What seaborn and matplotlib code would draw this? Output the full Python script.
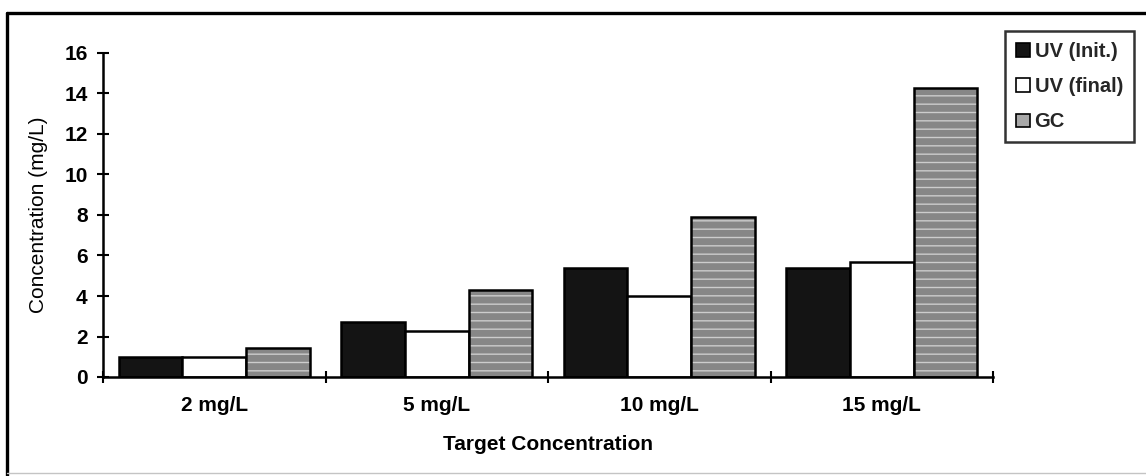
import matplotlib
matplotlib.use("Agg")
import matplotlib.pyplot as plt
from matplotlib.patches import Patch, Rectangle
from matplotlib.lines import Line2D
import numpy as np
import pandas as pd
import seaborn as sns

# Measured concentrations (mg/L) at each target level
targets = ["2 mg/L", "5 mg/L", "10 mg/L", "15 mg/L"]
uv_init = [1.0, 2.7, 5.4, 5.4]
uv_final = [1.0, 2.25, 4.0, 5.7]
gc = [1.45, 4.3, 7.9, 14.25]
methods = ["UV (Init.)", "UV (final)", "GC"]
y_ticks = [0, 2, 4, 6, 8, 10, 12, 14, 16]

df = pd.DataFrame({
    "target": targets * 3,
    "conc": uv_init + uv_final + gc,
    "method": [methods[0]] * 4 + [methods[1]] * 4 + [methods[2]] * 4,
})

sns.set_style("white")
plt.rcParams["font.family"] = ["Liberation Sans", "DejaVu Sans"]
plt.rcParams["hatch.linewidth"] = 1.0

GC_GRAY = "#878787"
STREAK = "#cdcdcd"
palette = {methods[0]: "#141414", methods[1]: "#ffffff", methods[2]: GC_GRAY}

fig = plt.figure(figsize=(11.46, 4.76), dpi=100)
ax = fig.add_axes([103 / 1146, 1 - 377 / 476, 890 / 1146, 324 / 476])

sns.barplot(data=df, x="target", y="conc", hue="method", order=targets,
            hue_order=methods, palette=palette, width=0.86, saturation=1,
            edgecolor="black", linewidth=1.8, legend=False, ax=ax)

# Grainy GC fill: pale streaks over gray, black outline redrawn on top
for bar in ax.containers[2]:
    bar.set_hatch("--")
    bar.set_edgecolor(STREAK)
    bar.set_linewidth(0)
    ax.add_patch(Rectangle(bar.get_xy(), bar.get_width(), bar.get_height(),
                           fill=False, edgecolor="black", linewidth=1.8,
                           zorder=bar.get_zorder() + 0.1))

ax.set_xlim(-0.5, 3.5)
ax.set_ylim(0, 16)
ax.set_yticks(y_ticks)
ax.set_xticks(range(len(targets)))
ax.set_xticklabels(targets)
ax.set_xticks(np.arange(-0.5, 4.0, 1.0), minor=True)

for side in ("top", "right"):
    ax.spines[side].set_visible(False)
for side in ("left", "bottom"):
    ax.spines[side].set_color("black")
    ax.spines[side].set_linewidth(1.8)

ax.tick_params(axis="y", which="major", direction="inout", length=8, width=1.5,
               color="black", pad=7, labelsize=15, left=True)
ax.tick_params(axis="x", which="major", length=0, pad=14, labelsize=15)
ax.tick_params(axis="x", which="minor", direction="inout", length=8, width=1.5,
               color="black", bottom=True)
for lab in ax.get_xticklabels() + ax.get_yticklabels():
    lab.set_fontweight("bold")
    lab.set_color("black")

ax.set_xlabel("Target Concentration", fontsize=15, fontweight="bold",
              labelpad=14, color="black")
ax.set_ylabel("Concentration (mg/L)", fontsize=15,
              family=["Liberation Sans Narrow", "Liberation Sans"],
              labelpad=12, color="black")

handles = [
    Patch(facecolor="#141414", edgecolor="black", linewidth=1.2),
    Patch(facecolor="white", edgecolor="black", linewidth=1.2),
    Patch(facecolor="#a8a8a8", edgecolor="black", linewidth=1.2),
]
leg = fig.legend(handles, methods, loc="upper right",
                 bbox_to_anchor=(1134 / 1146, 1 - 31 / 476),
                 prop={"family": "Liberation Sans", "weight": "bold", "size": 14.5},
                 frameon=True, fancybox=False, edgecolor="black",
                 handlelength=0.65, handleheight=0.65, handletextpad=0.25,
                 labelspacing=0.8, borderpad=0.55, borderaxespad=0)
leg.get_frame().set_linewidth(1.8)

# Outer frame of the chart area
fig.add_artist(Line2D([7 / 1146, 1.0], [1 - 13 / 476] * 2, color="black",
                      linewidth=2.4, transform=fig.transFigure))
fig.add_artist(Line2D([7 / 1146] * 2, [0.0, 1 - 13 / 476], color="black",
                      linewidth=2.4, transform=fig.transFigure))
fig.add_artist(Line2D([7 / 1146, 1.0], [1 - 473 / 476] * 2, color="#c4c4c4",
                      linewidth=1.0, transform=fig.transFigure))

fig.savefig("out.png", dpi=100, facecolor="white")
